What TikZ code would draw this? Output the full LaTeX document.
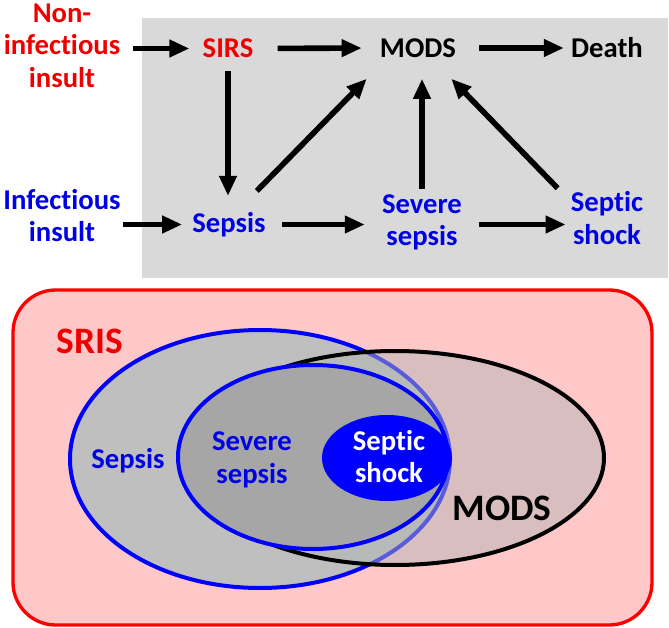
\documentclass[tikz,border=0pt]{standalone}
\usepackage{fontspec}
\setmainfont{Carlito}[Ligatures={NoCommon,NoContextual}]
\usetikzlibrary{arrows.meta,calc}
\definecolor{bgray}{RGB}{217,217,217}
\definecolor{pinkbg}{RGB}{255,200,200}
\definecolor{sepsgray}{RGB}{191,191,191}
\definecolor{sevgray}{RGB}{166,166,166}
\definecolor{modsfill}{RGB}{178,182,182}
\definecolor{tblue}{RGB}{0,0,230}
\definecolor{tred}{RGB}{238,0,0}
\begin{document}
\begin{tikzpicture}[x=0.75pt,y=-0.75pt,
  lbl/.style={font=\fontsize{21.5}{24.5}\selectfont\bfseries, inner sep=0pt, align=center},
  big/.style={font=\fontsize{28}{32}\selectfont\bfseries, inner sep=0pt, align=center},
  arr/.style={line width=4.2pt, -{Triangle[length=15pt,width=12.5pt]}},
  ring/.style={line width=3pt}]
\useasboundingbox (0,0) rectangle (669,628);
% panels
\fill[bgray] (142,18) rectangle (668,278);
\draw[red, line width=2.5pt, fill=pinkbg, rounded corners=32pt] (13,290) rectangle (652,625);
% Venn-like ellipses
\draw[ring, blue, fill=sepsgray] (260,459) ellipse [x radius=190, y radius=129];
\draw[ring, black, fill=modsfill, fill opacity=0.5] (395,458) ellipse [x radius=209, y radius=107];
\draw[ring, blue, fill=sevgray] (313,457) ellipse [x radius=135, y radius=92];
\fill[blue] (387,458) ellipse [x radius=65, y radius=43];
% top labels
\node[lbl, tred] (nonins) at (62,45.5) {Non-\\infectious\\insult};
\node[lbl, tred] (sirs) at (228,48.5) {SIRS};
\node[lbl] (mods) at (418,48) {MODS};
\node[lbl] (death) at (607,48) {Death};
\node[lbl, tblue] (infect) at (62,215.5) {Infectious\\insult};
\node[lbl, tblue] (sepsis) at (229,224.5) {Sepsis};
\node[lbl, tblue] (severe) at (422,222.5) {Severe\\sepsis};
\node[lbl, tblue] (septic) at (607,218) {Septic\\shock};
% bottom labels
\node[big, tred] (sris) at (90,341) {SRIS};
\node[lbl, tblue] (bsepsis) at (128,461) {Sepsis};
\node[lbl, tblue] (bsevere) at (252,460) {Severe\\sepsis};
\node[lbl, white] (bseptic) at (389,456.5) {Septic\\shock};
\node[big] (bmods) at (502,508) {MODS};
% arrows
\draw[arr, shorten <=9pt, shorten >=9.75pt] (nonins.east |- sirs.west) -- (sirs.west);
\draw[arr, shorten <=18pt, shorten >=13.5pt] (sirs.east) -- (mods.west);
\draw[arr, shorten <=17.25pt, shorten >=5.25pt] (mods.east) -- (death.west);
\draw[arr, shorten <=9.75pt, shorten >=12pt] (sirs.south) -- (sirs.south |- sepsis.north);
\draw[arr] ([shift={(-9,-21)}]sepsis.north east) -- ([shift={(-13,21)}]mods.south west);
\draw[arr, shorten <=1.5pt, shorten >=7.5pt] (infect.east |- sepsis.west) -- (sepsis.west);
\draw[arr, shorten <=12pt, shorten >=12.75pt] (sepsis.east) -- (sepsis.east -| severe.west);
\draw[arr, shorten <=12.75pt, shorten >=3.75pt] (severe.east |- sepsis.east) -- (septic.west |- sepsis.east);
\draw[arr, shorten <=3.75pt, shorten >=15.75pt] (severe.north) -- (severe.north |- mods.south);
\draw[arr] ([shift={(-13,-3)}]septic.north west) -- ([shift={(-5,21)}]mods.south east);
\end{tikzpicture}
\end{document}
